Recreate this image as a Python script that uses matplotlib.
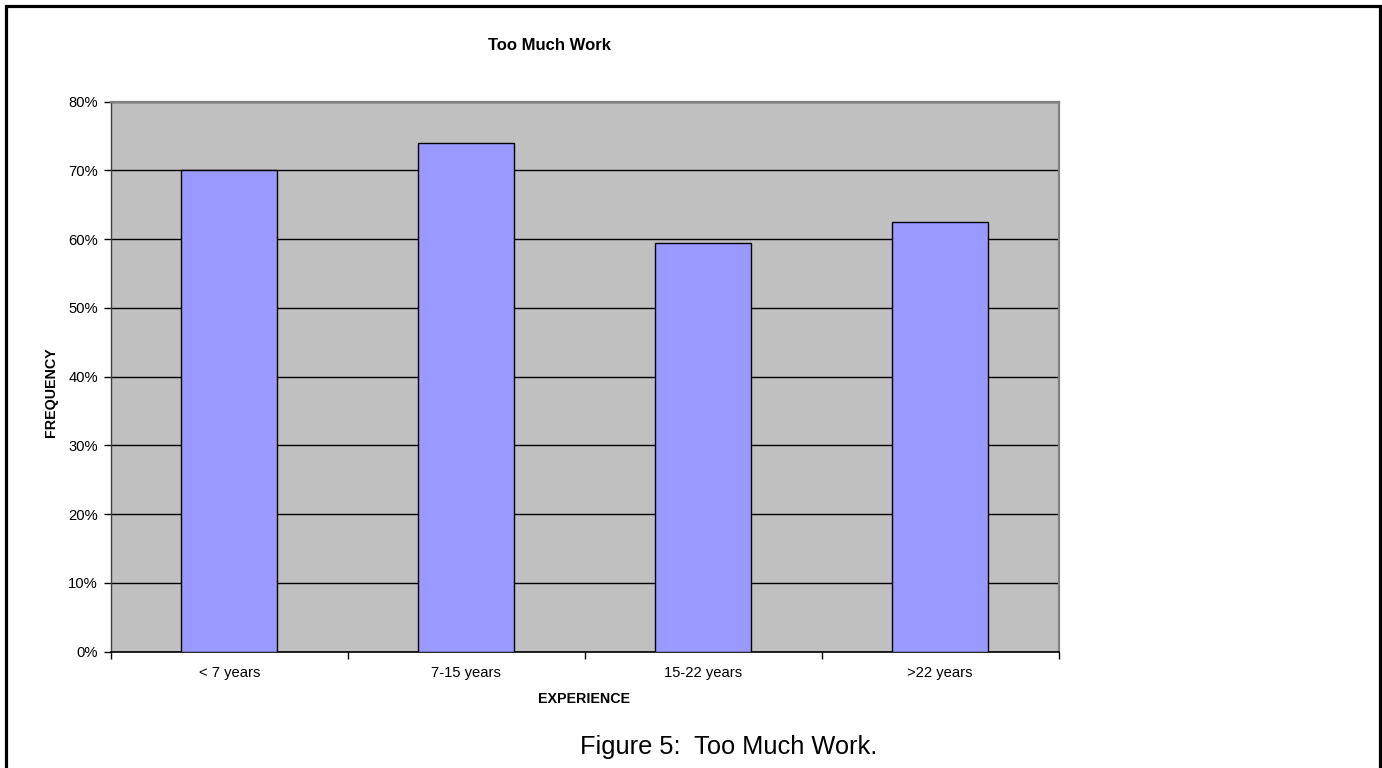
import matplotlib
matplotlib.use("Agg")
import matplotlib.pyplot as plt
from matplotlib.patches import Rectangle
from matplotlib.ticker import FixedLocator, PercentFormatter

plt.rcParams['font.family'] = ['Liberation Sans', 'DejaVu Sans']

categories = ["< 7 years", "7-15 years", "15-22 years", ">22 years"]
frequency = [70.0, 74.0, 59.4, 62.5]
y_ticks = [0, 10, 20, 30, 40, 50, 60, 70, 80]

W, H = 1382, 768
fig = plt.figure(figsize=(W / 100, H / 100), dpi=100)

# outer frame of the figure (bottom edge runs past the canvas)
fig.patches.append(Rectangle((6 / W, -0.05), (1380 - 6) / W, 1 - 6 / H + 0.05,
                             transform=fig.transFigure, fill=False,
                             edgecolor='black', linewidth=2.3, zorder=0))

left, right = 111 / W, 1058.7 / W
bottom, top = 1 - 651.7 / H, 1 - 101.7 / H
ax = fig.add_axes([left, bottom, right - left, top - bottom])
ax.set_facecolor('#C0C0C0')

x = list(range(len(categories)))
ax.bar(x, frequency, width=0.405, color='#9999FF', edgecolor='black',
       linewidth=1.0, zorder=3)

ax.set_xlim(-0.5, len(categories) - 0.5)
ax.set_ylim(0, 80)
ax.yaxis.set_major_locator(FixedLocator(y_ticks))
ax.yaxis.set_major_formatter(PercentFormatter(decimals=0))
ax.grid(axis='y', color='black', linewidth=1.0, zorder=1)
ax.set_axisbelow(True)

ax.set_xticks(x)
ax.set_xticklabels(categories)
ax.set_xticks([i - 0.5 for i in range(len(categories) + 1)], minor=True)
ax.tick_params(axis='x', which='major', length=0, pad=10.5, labelsize=10.6)
ax.tick_params(axis='x', which='minor', length=5, width=1, color='black',
               direction='out')
ax.tick_params(axis='y', length=5, width=1, color='black', direction='out',
               pad=4.5, labelsize=10.6)

for side in ('top', 'right'):
    ax.spines[side].set_color('#808080')
    ax.spines[side].set_linewidth(1.6)
ax.spines['left'].set_color('#404040')
ax.spines['bottom'].set_color('black')
ax.spines['left'].set_linewidth(1.0)
ax.spines['bottom'].set_linewidth(1.2)

fig.text(549 / W, 1 - 45 / H, "Too Much Work", ha='center', va='center',
         fontsize=12, fontweight='bold')
fig.text(51 / W, 1 - 392 / H, "FREQUENCY", ha='center', va='center',
         rotation=90, fontsize=10.3, fontweight='bold')
fig.text(584 / W, 1 - 699 / H, "EXPERIENCE", ha='center', va='center',
         fontsize=10.3, fontweight='bold')
fig.text(729 / W, 1 - 747 / H, "Figure 5:  Too Much Work.", ha='center',
         va='center', fontsize=18.3)

fig.savefig("out.png", dpi=100)
